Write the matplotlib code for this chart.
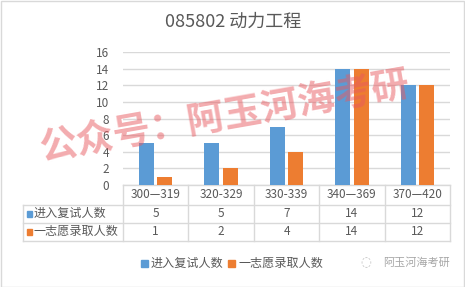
import matplotlib.pyplot as plt
import numpy as np
from matplotlib.transforms import blended_transform_factory
from matplotlib.patches import Rectangle

plt.rcParams['font.family'] = ['Noto Sans CJK SC', 'DejaVu Sans']

categories = ['300—319', '320-329', '330-339', '340—369', '370—420']
series_names = ['进入复试人数', '一志愿录取人数']
retest = [5, 5, 7, 14, 12]
admitted = [1, 2, 4, 14, 12]
colors = ['#5B9BD5', '#ED7D31']
text_color = '#595959'
grid_color = '#D9D9D9'

W, H = 465, 287
fig = plt.figure(figsize=(W / 100, H / 100), dpi=100)

# axes position in pixels
left, right, top, bottom = 123, 450, 52, 185
ax = fig.add_axes([left / W, 1 - bottom / H, (right - left) / W, (bottom - top) / H])

x = np.arange(len(categories))
bw = 0.23
ax.bar(x - 0.14, retest, bw, color=colors[0], zorder=3)
ax.bar(x + 0.14, admitted, bw, color=colors[1], zorder=3)

ax.set_xlim(-0.5, len(categories) - 0.5)
ax.set_ylim(0, 16)
ax.set_yticks(range(0, 17, 2))
ax.set_xticks([])
ax.yaxis.grid(True, color=grid_color, linewidth=1, zorder=0)
for s in ax.spines.values():
    s.set_visible(False)
ax.tick_params(axis='y', length=0, labelsize=8.5, labelcolor=text_color, pad=10)

# data table under the plot
ax_h = bottom - top
ax_w = right - left
row_px = [185, 205, 222.5, 240.5]
row_y = [(185 - r) / ax_h for r in row_px]
lab_x = (23 - left) / ax_w
blend = blended_transform_factory(ax.transData, ax.transAxes)
lw = 1
# horizontal lines
ax.plot([0, 1], [row_y[0]] * 2, transform=ax.transAxes, color=grid_color, lw=lw, clip_on=False)
for ry in row_y[1:]:
    ax.plot([lab_x, 1], [ry] * 2, transform=ax.transAxes, color=grid_color, lw=lw, clip_on=False)
# vertical lines
for i in range(len(categories) + 1):
    ax.plot([i - 0.5] * 2, [row_y[0], row_y[-1]], transform=blend, color=grid_color, lw=lw, clip_on=False)
ax.plot([lab_x] * 2, [row_y[1], row_y[-1]], transform=ax.transAxes, color=grid_color, lw=lw, clip_on=False)

for i, c in enumerate(categories):
    ax.text(i, (row_y[0] + row_y[1]) / 2, c, transform=blend, ha='center', va='center',
            fontsize=8.5, color=text_color)
for r, vals in enumerate([retest, admitted]):
    yc = (row_y[r + 1] + row_y[r + 2]) / 2
    for i, v in enumerate(vals):
        ax.text(i, yc, str(v), transform=blend, ha='center', va='center', fontsize=8.5, color=text_color)
    sq_x = (27 - left) / ax_w
    ax.add_patch(Rectangle((sq_x, yc - 6 / ax_h / 2 * 1.1), 5 / ax_w, 6 / ax_h, transform=ax.transAxes,
                           color=colors[r], clip_on=False))
    ax.text((34 - left) / ax_w, yc, series_names[r], transform=ax.transAxes, ha='left', va='center',
            fontsize=8.7, color=text_color)

# title
fig.text(233 / W, 1 - 22 / H, '085802 动力工程', ha='center', va='center', fontsize=13, color=text_color)

# legend
ly = 1 - 263 / H
for r, lx in enumerate([141, 228]):
    fig.patches.append(Rectangle((lx / W, ly - 3.5 / H), 7 / W, 7 / H, transform=fig.transFigure,
                                 color=colors[r]))
    fig.text((lx + 10) / W, ly, series_names[r], ha='left', va='center', fontsize=8.7, color=text_color)

# logo text
fig.text(366 / W, ly, '◌', ha='center', va='center', fontsize=9, color='#BFBFBF', family=['DejaVu Sans'])
fig.text(383 / W, ly, '阿玉河海考研', ha='left', va='center', fontsize=8, color='#A6A6A6')

# watermark
fig.text(225 / W, 1 - 116 / H, '公众号：阿玉河海考研', ha='center', va='center', fontsize=27,
         fontweight='bold', color='#E8595F', alpha=0.5, rotation=10, zorder=10)

# outer border
fig.patches.append(Rectangle((0.5 / W, 0.5 / H), 1 - 1.5 / W, 1 - 1.5 / H, transform=fig.transFigure,
                             fill=False, edgecolor='#D9D9D9', lw=1))

fig.savefig('out.png', dpi=100)
